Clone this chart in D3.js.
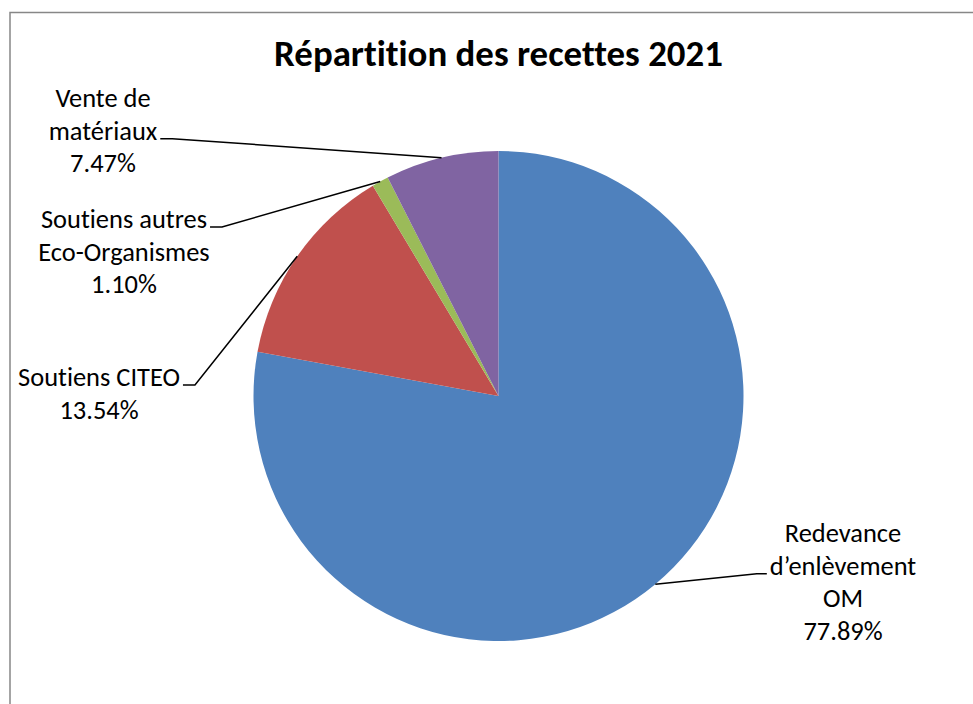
<!doctype html>
<head>
  <script src="https://cdnjs.cloudflare.com/ajax/libs/d3/7.8.5/d3.min.js"></script>
  <style>
    body { margin: 0; background: #fff; }
    svg { display: block; }
    text { font-family: Carlito, Calibri, "Open Sans", sans-serif; fill: #000; font-variant-ligatures: none; }
  </style>
</head>
<body>
  <svg id="chart" width="973" height="704"></svg>
  <script type="text/javascript">
    // recettes 2021, in slice order (clockwise from 12 o'clock)
    var categories = ["Redevance d\u2019enlèvement OM", "Soutiens CITEO", "Soutiens autres Eco-Organismes", "Vente de matériaux"]
    var values = [77.89, 13.54, 1.10, 7.47]
    var colors = ["#4F81BD", "#C0504D", "#9BBB59", "#8064A2"]
    // how each label is broken into lines
    var labelLines = [
      ["Redevance", "d\u2019enlèvement", "OM"],
      ["Soutiens CITEO"],
      ["Soutiens autres", "Eco-Organismes"],
      ["Vente de", "matériaux"]
    ]
    var title = "Répartition des recettes 2021"

    // layout
    var cx = 498.5, cy = 396, radius = 245
    var lineH = 32.7
    // label block anchor: centre x, first baseline, which line the leader attaches to, side
    var labelPos = [
      {x: 843, y: 542, attach: 1, side: "left"},
      {x: 99, y: 386, attach: 0, side: "right"},
      {x: 124, y: 228, attach: 0, side: "right"},
      {x: 103, y: 107, attach: 1, side: "right"}
    ]

    var data = categories.map((c, i) => ({name: c, value: values[i], color: colors[i], lines: labelLines[i], pos: labelPos[i]}))

    var svg = d3.select("#chart")

    // pick a font size that gives the wanted text width with whatever font is present
    function fitSize(sample, weight, target) {
      var t = svg.append("text").style("font-size", "20px").style("font-weight", weight).text(sample)
      var w = t.node().getComputedTextLength()
      t.remove()
      return 20 * target / w
    }
    var titleSize = fitSize(title, "bold", 449)
    var labelSize = fitSize("Soutiens CITEO", "normal", 162)

    // chart frame
    svg.append("rect")
      .attr("x", 10).attr("y", 12.5)
      .attr("width", 1000).attr("height", 800)
      .style("fill", "none")
      .style("stroke", "#878787")
      .style("stroke-width", "1.5px")

    svg.append("text")
      .attr("x", 498.5).attr("y", 66)
      .attr("text-anchor", "middle")
      .style("font-size", titleSize + "px")
      .style("font-weight", "bold")
      .text(title)

    var pie = d3.pie().sort(null).value(d => d.value)
    var arc = d3.arc().innerRadius(0).outerRadius(radius)
    var edge = d3.arc().innerRadius(radius).outerRadius(radius)

    var g = svg.append("g").attr("transform", "translate(" + cx + "," + cy + ")")
    var arcs = pie(data)

    g.selectAll("path.slice")
      .data(arcs)
      .enter()
      .append("path")
      .attr("class", "slice")
      .attr("d", arc)
      .style("fill", d => d.data.color)
      .style("stroke", "none")

    var fmt = d3.format(".2f")

    // labels
    var labels = svg.selectAll("g.label")
      .data(arcs)
      .enter()
      .append("g")
      .attr("class", "label")

    labels.each(function(d) {
      var sel = d3.select(this)
      var p = d.data.pos
      var all = d.data.lines.concat([fmt(d.data.value) + "%"])
      var t = sel.append("text")
        .attr("text-anchor", "middle")
        .style("font-size", labelSize + "px")
      all.forEach((s, i) => {
        t.append("tspan").attr("x", p.x).attr("y", p.y + i * lineH).text(s)
      })
      // leader line from attached text line to slice edge
      var tspans = t.selectAll("tspan").nodes()
      var w = tspans[p.attach].getComputedTextLength()
      var ly = p.y + p.attach * lineH - 1
      var sx = p.side === "right" ? p.x + w / 2 + 3 : p.x - w / 2 - 3
      var kx = p.side === "right" ? sx + 12 : sx - 10
      var e = edge.centroid(d)
      sel.append("polyline")
        .attr("points", [[sx, ly], [kx, ly], [cx + e[0], cy + e[1]]].map(q => q.join(",")).join(" "))
        .style("fill", "none")
        .style("stroke", "#000")
        .style("stroke-width", "1.5px")
    })
  </script>
</body>
</html>
